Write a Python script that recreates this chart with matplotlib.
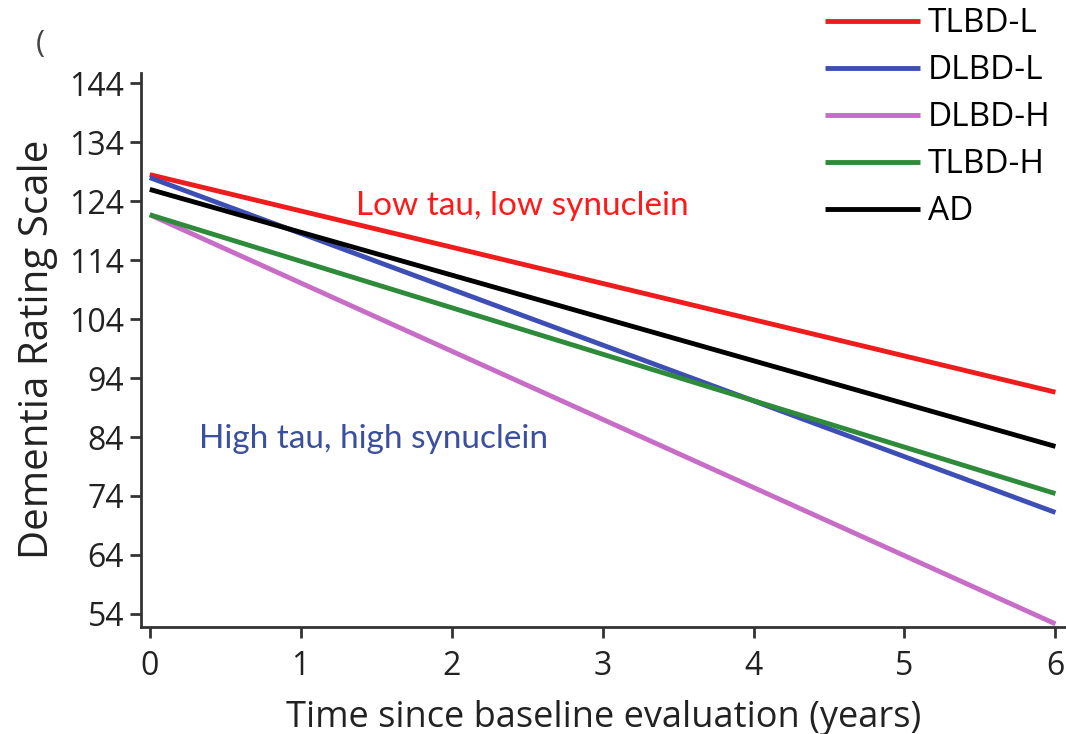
import matplotlib.pyplot as plt

# data (fitted linear decline)
years = [0, 6]
groups = ['TLBD-L', 'DLBD-L', 'DLBD-H', 'TLBD-H', 'AD']
start_vals = [128.5, 128.0, 121.7, 121.7, 126.0]
end_vals = [91.6, 71.2, 52.3, 74.4, 82.4]
colors = ['#ee1c1c', '#3d4fb5', '#c76dc7', '#2e8b3a', '#000000']
yticks = [54, 64, 74, 84, 94, 104, 114, 124, 134, 144]
xticks = [0, 1, 2, 3, 4, 5, 6]

plt.rcParams['font.family'] = ['Open Sans', 'DejaVu Sans']

fig = plt.figure(figsize=(10.66, 7.34), dpi=100)
ax = fig.add_axes([0.132, 0.146, 0.868, 0.755])

lines = []
for g, s, e, c in zip(groups, start_vals, end_vals, colors):
    ln, = ax.plot(years, [s, e], color=c, lw=3.5, label=g, solid_capstyle='butt')
    lines.append(ln)

ax.set_xlim(-0.06, 6.07)
ax.set_ylim(51.8, 145.8)
ax.set_xticks(xticks)
ax.set_yticks(yticks)
ax.tick_params(labelsize=23, length=8, width=2, color='#333333', labelcolor='#222222')
ax.tick_params(axis='x', pad=9)
ax.tick_params(axis='y', pad=4)
for side in ['top', 'right']:
    ax.spines[side].set_visible(False)
for side in ['left', 'bottom']:
    ax.spines[side].set_linewidth(2)
    ax.spines[side].set_color('#333333')

ax.set_xlabel('Time since baseline evaluation (years)', fontsize=26, color='#222222', labelpad=12)
ax.set_ylabel('Dementia Rating Scale', fontsize=29, color='#222222', labelpad=8)

ax.text(2.47, 123.1, 'Low tau, low synuclein', color='#ff1a1a', fontsize=24,
        family=['Lato', 'DejaVu Sans'], ha='center', va='center')
ax.text(1.48, 83.6, 'High tau, high synuclein', color='#3a4f9e', fontsize=24,
        family=['Lato', 'DejaVu Sans'], ha='center', va='center')

fig.text(0.038, 0.94, '(', fontsize=22, color='#444444', ha='center', va='center')

fig.legend(handles=lines, loc='upper left', bbox_to_anchor=(0.774, 0.99), frameon=False,
           fontsize=24, handlelength=2.85, handletextpad=0.24, labelspacing=0.42,
           borderpad=0, borderaxespad=0)

fig.savefig('out.png', dpi=100)
